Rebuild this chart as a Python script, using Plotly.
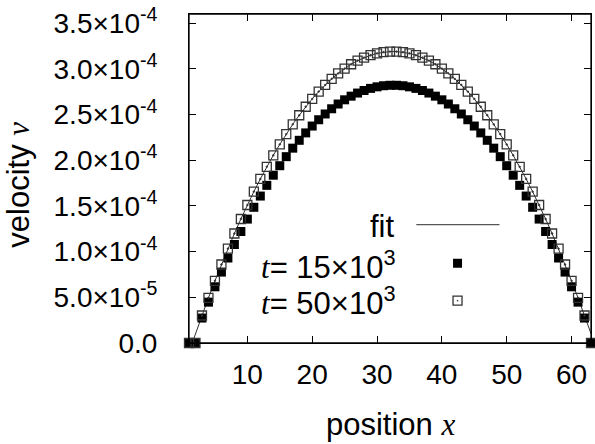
import plotly.graph_objects as go

# ---------------- data ----------------
position = list(range(1, 64))

# velocity at t = 15x10^3 (units of 1e-4)
v_t15 = [0.0, 0.0,
         0.273, 0.447, 0.615, 0.776, 0.930, 1.078, 1.220, 1.356, 1.485, 1.608,
         1.725, 1.836, 1.940, 2.039, 2.132, 2.218, 2.299, 2.374, 2.443, 2.506,
         2.563, 2.615, 2.661, 2.701, 2.735, 2.763, 2.786, 2.803, 2.815, 2.820,
         2.820, 2.815, 2.803, 2.786, 2.763, 2.735, 2.701, 2.661, 2.615, 2.563,
         2.506, 2.443, 2.374, 2.299, 2.218, 2.132, 2.039, 1.940, 1.836, 1.725,
         1.608, 1.485, 1.356, 1.220, 1.078, 0.930, 0.776, 0.615, 0.447, 0.273,
         0.0]

# velocity at t = 50x10^3 (units of 1e-4)
v_t50 = [0.0, 0.0,
         0.301, 0.494, 0.680, 0.859, 1.032, 1.198, 1.357, 1.510, 1.656, 1.795,
         1.928, 2.054, 2.173, 2.286, 2.393, 2.492, 2.585, 2.671, 2.751, 2.824,
         2.890, 2.950, 3.003, 3.050, 3.090, 3.123, 3.149, 3.169, 3.183, 3.189,
         3.189, 3.183, 3.169, 3.149, 3.123, 3.090, 3.050, 3.003, 2.950, 2.890,
         2.824, 2.751, 2.671, 2.585, 2.492, 2.393, 2.286, 2.173, 2.054, 1.928,
         1.795, 1.656, 1.510, 1.357, 1.198, 1.032, 0.859, 0.680, 0.494, 0.301,
         0.0]

# parabolic fit curve (units of 1e-4)
fit_x = [1.5] + list(range(2, 64))
fit_v = [0.0, 0.102,
         0.301, 0.494, 0.680, 0.859, 1.032, 1.198, 1.357, 1.510, 1.656, 1.795,
         1.928, 2.054, 2.173, 2.286, 2.393, 2.492, 2.585, 2.671, 2.751, 2.824,
         2.890, 2.950, 3.003, 3.050, 3.090, 3.123, 3.149, 3.169, 3.183, 3.189,
         3.189, 3.183, 3.169, 3.149, 3.123, 3.090, 3.050, 3.003, 2.950, 2.890,
         2.824, 2.751, 2.671, 2.585, 2.492, 2.393, 2.286, 2.173, 2.054, 1.928,
         1.795, 1.656, 1.510, 1.357, 1.198, 1.032, 0.859, 0.680, 0.494, 0.301,
         0.102]

scale = 1e-4

x_ticks = [10, 20, 30, 40, 50, 60]
y_ticks = [0.0, 5e-5, 1e-4, 1.5e-4, 2e-4, 2.5e-4, 3e-4, 3.5e-4]
y_ticktext = ["0.0", "5.0×10<sup>-5</sup>", "1.0×10<sup>-4</sup>", "1.5×10<sup>-4</sup>",
              "2.0×10<sup>-4</sup>", "2.5×10<sup>-4</sup>", "3.0×10<sup>-4</sup>",
              "3.5×10<sup>-4</sup>"]

legend_fit = "fit"
legend_t15 = "<span style=\"font-family:'Liberation Serif'\"><i>t</i></span>= 15×10<sup>3</sup>"
legend_t50 = "<span style=\"font-family:'Liberation Serif'\"><i>t</i></span>= 50×10<sup>3</sup>"
x_title = "position <span style=\"font-family:'Liberation Serif'\"><i>x</i></span>"
y_title = "velocity <span style=\"font-family:'Liberation Serif'\"><i>v</i></span>"

# ---------------- figure ----------------
SANS = "Liberation Sans"
FS_TICK = 28
FS_TEXT = 31
OPEN_COL = "#333333"
TICKLEN = 7

fig = go.Figure()
fig.add_trace(go.Scatter(x=fit_x, y=[v * scale for v in fit_v], mode="lines",
                         line=dict(color="#333333", width=1), showlegend=False))
fig.add_trace(go.Scatter(x=position, y=[v * scale for v in v_t15], mode="markers",
                         marker=dict(symbol="square", size=9, color="black",
                                     line=dict(width=0)),
                         cliponaxis=False, showlegend=False))
fig.add_trace(go.Scatter(x=position, y=[v * scale for v in v_t50], mode="markers",
                         marker=dict(symbol="square-open-dot", size=9, color=OPEN_COL,
                                     line=dict(width=1.3)),
                         cliponaxis=False, showlegend=False))

# ---- frame (box border) ----
fig.add_shape(type="rect", xref="paper", yref="paper", x0=0, x1=1, y0=0, y1=1,
              line=dict(color="black", width=1.3), layer="above")

# ---- legend keys (drawn as shapes in paper space) ----
key_x = 0.668
key_y15 = 0.2424
key_y50 = 0.1287
fig.add_shape(type="line", xref="paper", yref="paper", x0=0.5654, x1=0.7723,
              y0=0.360, y1=0.360, line=dict(color="#555555", width=1.2))
fig.add_shape(type="rect", xref="paper", yref="paper",
              xsizemode="pixel", ysizemode="pixel", xanchor=key_x, yanchor=key_y15,
              x0=-4.5, x1=4.5, y0=-4.5, y1=4.5, fillcolor="black", line=dict(width=0))
fig.add_shape(type="rect", xref="paper", yref="paper",
              xsizemode="pixel", ysizemode="pixel", xanchor=key_x, yanchor=key_y50,
              x0=-4.5, x1=4.5, y0=-4.5, y1=4.5, fillcolor="rgba(0,0,0,0)",
              line=dict(color=OPEN_COL, width=1.3))
fig.add_shape(type="rect", xref="paper", yref="paper",
              xsizemode="pixel", ysizemode="pixel", xanchor=key_x, yanchor=key_y50,
              x0=-0.7, x1=0.7, y0=-0.7, y1=0.7, fillcolor=OPEN_COL, line=dict(width=0))

axis_common = dict(showline=True, linecolor="black", linewidth=1, mirror="ticks",
                   ticks="inside", ticklen=TICKLEN, tickwidth=1.3, tickcolor="black",
                   showgrid=False, zeroline=False, ticklabeloverflow="allow",
                   tickfont=dict(family=SANS, size=FS_TICK, color="black"))

fig.update_layout(
    width=595, height=444,
    margin=dict(l=189, r=3, t=11, b=101),
    paper_bgcolor="white", plot_bgcolor="white",
    showlegend=False,
    xaxis=dict(range=[1, 63], tickvals=x_ticks, ticktext=[str(v) for v in x_ticks],
               ticklabelstandoff=6, **axis_common),
    yaxis=dict(range=[0, 3.6e-4], tickvals=y_ticks, ticktext=y_ticktext,
               ticklabelstandoff=25, **axis_common),
)

ann_font = dict(family=SANS, size=FS_TEXT, color="black")
fig.add_annotation(text=legend_fit, xref="paper", yref="paper", x=0.5165, y=0.355,
                   xanchor="right", yanchor="middle", showarrow=False, font=ann_font)
fig.add_annotation(text=legend_t15, xref="paper", yref="paper", x=0.5165, y=0.237,
                   xanchor="right", yanchor="middle", showarrow=False, font=ann_font)
fig.add_annotation(text=legend_t50, xref="paper", yref="paper", x=0.5165, y=0.129,
                   xanchor="right", yanchor="middle", showarrow=False, font=ann_font)
fig.add_annotation(text=x_title, xref="paper", yref="paper", x=0.5, y=-0.248,
                   xanchor="center", yanchor="middle", showarrow=False, font=ann_font)
fig.add_annotation(text=y_title, xref="paper", yref="paper", x=-0.425, y=0.4815,
                   xanchor="center", yanchor="middle", textangle=-90, showarrow=False,
                   font=ann_font)

fig.write_html("out.html", config={"displayModeBar": False},
               post_script="document.body.style.margin='0px';document.body.style.overflow='hidden';")
